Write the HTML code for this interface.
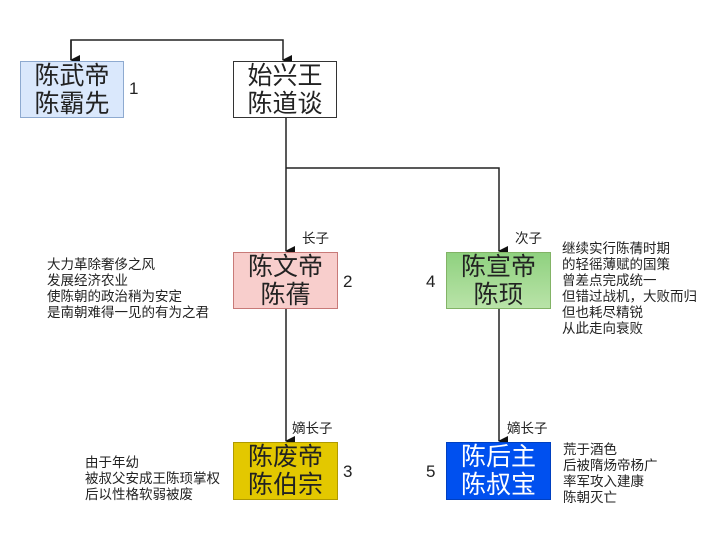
<!DOCTYPE html>
<html><head><meta charset="utf-8"><style>
html,body{margin:0;padding:0;background:#fff;width:719px;height:544px;overflow:hidden;position:relative;font-family:"Liberation Sans","Noto Sans CJK SC",sans-serif;}
.b{position:absolute;box-sizing:border-box;border:1.5px solid;font-size:25px;line-height:28px;text-align:center;padding-top:0px;color:#222;}
.t{position:absolute;font-size:13.5px;line-height:16px;color:#222;white-space:nowrap;}
.n{position:absolute;font-size:17px;color:#222;}
svg{position:absolute;left:0;top:0;}
</style></head><body>
<svg width="719" height="544">
<defs><marker id="a" markerWidth="10" markerHeight="10" refX="5" refY="9" orient="auto" markerUnits="userSpaceOnUse"><path d="M0,0 L10,0 L5,10 z" fill="#111"/></marker></defs>
<g stroke="#222" stroke-width="1.5" fill="none">
<path d="M71,60 V40 H283 V60" marker-end="url(#a)"/>
<path d="M71,40 V60" marker-end="url(#a)"/>
<path d="M286,118 V251" marker-end="url(#a)"/>
<path d="M286,168 H499 V251" marker-end="url(#a)"/>
<path d="M286,309 V441" marker-end="url(#a)"/>
<path d="M499,309 V441" marker-end="url(#a)"/>
</g></svg>
<div class="b" style="left:20px;top:61px;width:104px;height:57px;background:#dae8fc;border-color:#8eaad0;">陈武帝<br>陈霸先</div>
<div class="n" style="left:129px;top:79px;">1</div>
<div class="b" style="left:233px;top:61px;width:104px;height:57px;background:#fff;border-color:#333;">始兴王<br>陈道谈</div>
<div class="b" style="left:233px;top:252px;width:105px;height:57px;background:#f8cecc;border-color:#c87a78;">陈文帝<br>陈蒨</div>
<div class="n" style="left:343px;top:272px;">2</div>
<div class="t" style="left:302px;top:231px;">长子</div>
<div class="t" style="left:47px;top:257px;">大力革除奢侈之风<br>发展经济农业<br>使陈朝的政治稍为安定<br>是南朝难得一见的有为之君</div>
<div class="b" style="left:446px;top:252px;width:105px;height:57px;background:linear-gradient(#8fd17f,#b9e3a8);border-color:#82b366;">陈宣帝<br>陈顼</div>
<div class="n" style="left:426px;top:272px;">4</div>
<div class="t" style="left:515px;top:231px;">次子</div>
<div class="t" style="left:562px;top:241px;">继续实行陈蒨时期<br>的轻徭薄赋的国策<br>曾差点完成统一<br>但错过战机，大败而归<br>但也耗尽精锐<br>从此走向衰败</div>
<div class="b" style="left:233px;top:442px;width:105px;height:58px;background:#e3c800;border-color:#b09a00;">陈废帝<br>陈伯宗</div>
<div class="n" style="left:343px;top:462px;">3</div>
<div class="t" style="left:292px;top:421px;">嫡长子</div>
<div class="t" style="left:85px;top:455px;">由于年幼<br>被叔父安成王陈顼掌权<br>后以性格软弱被废</div>
<div class="b" style="left:446px;top:442px;width:105px;height:58px;background:#0050ef;border-color:#0040c0;color:#fff;">陈后主<br>陈叔宝</div>
<div class="n" style="left:426px;top:462px;">5</div>
<div class="t" style="left:507px;top:421px;">嫡长子</div>
<div class="t" style="left:563px;top:442px;">荒于酒色<br>后被隋炀帝杨广<br>率军攻入建康<br>陈朝灭亡</div>
</body></html>
